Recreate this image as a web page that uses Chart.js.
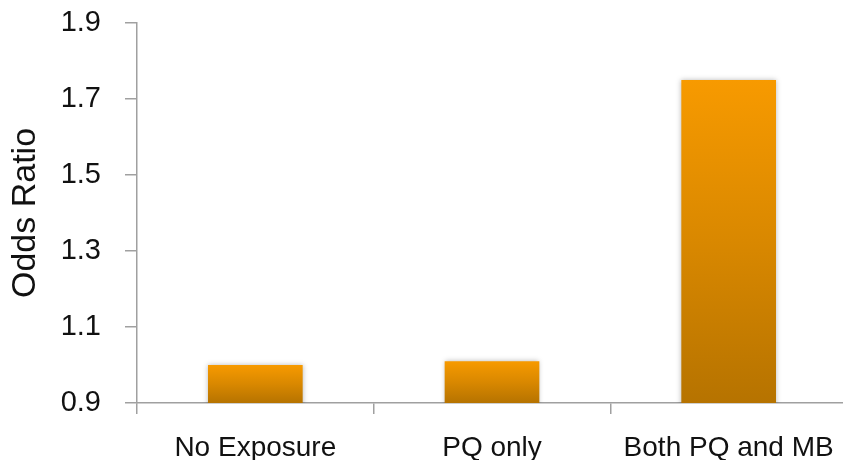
<!DOCTYPE html>
<html>
<head>
<meta charset="utf-8">
<script src="https://cdn.jsdelivr.net/npm/chart.js@4/dist/chart.umd.min.js"></script>
<style>
  html, body { margin: 0; padding: 0; background: #fff; overflow: hidden; }
  #wrap { width: 848px; height: 460px; }
</style>
</head>
<body>
<div id="wrap"><canvas id="c" width="848" height="460"></canvas></div>
<script>
// Odds ratios by exposure group
const categories = ['No Exposure', 'PQ only', 'Both PQ and MB'];
const oddsRatios = [1.0, 1.01, 1.75];
const yTicks = [0.9, 1.1, 1.3, 1.5, 1.7, 1.9];

const AXIS_GREY = '#a0a0a0';
const TEXT = '#111111';
const FONT = '"Liberation Sans", Arial, sans-serif';

// vertical orange gradient spanning each bar from its top to the baseline
function barGradient(context) {
  const chart = context.chart;
  const y = chart.scales.y;
  if (!chart.chartArea || !y || context.raw == null) return '#f39a00';
  const top = y.getPixelForValue(context.raw);
  const bottom = y.getPixelForValue(y.min);
  const g = chart.ctx.createLinearGradient(0, top, 0, bottom);
  g.addColorStop(0, '#f79a00');
  g.addColorStop(0.5, '#d98800');
  g.addColorStop(1, '#b67300');
  return g;
}

// soft drop shadow around the bars
const barShadow = {
  id: 'barShadow',
  beforeDatasetsDraw(chart) {
    const ctx = chart.ctx;
    ctx.save();
    ctx.shadowColor = 'rgba(0,0,0,0.28)';
    ctx.shadowBlur = 5;
    ctx.shadowOffsetX = 0;
    ctx.shadowOffsetY = 0;
  },
  afterDatasetsDraw(chart) {
    chart.ctx.restore();
  }
};

new Chart(document.getElementById('c'), {
  type: 'bar',
  data: {
    labels: categories,
    datasets: [{
      data: oddsRatios,
      backgroundColor: barGradient,
      borderWidth: 0,
      barPercentage: 0.4,
      categoryPercentage: 1.0
    }]
  },
  options: {
    responsive: false,
    animation: false,
    devicePixelRatio: 1,
    layout: { padding: { top: 23, right: 1, bottom: 0, left: 0 } },
    plugins: {
      legend: { display: false },
      tooltip: { enabled: false }
    },
    scales: {
      x: {
        grid: {
          display: true,
          drawOnChartArea: false,
          drawTicks: true,
          tickLength: 11,
          color: AXIS_GREY,
          lineWidth: 1.5
        },
        border: { display: true, color: AXIS_GREY, width: 1.5 },
        ticks: {
          color: TEXT,
          font: { family: FONT, size: 28 },
          padding: 17,
          maxRotation: 0
        },
        afterFit(scale) {
          scale.height = 57;
          scale.paddingLeft = 0;
          scale.paddingRight = 0;
        }
      },
      y: {
        min: 0.9,
        max: 1.9,
        afterBuildTicks(scale) {
          scale.ticks = yTicks.map(v => ({ value: v }));
        },
        grid: {
          display: true,
          drawOnChartArea: false,
          drawTicks: true,
          tickLength: 12,
          color: AXIS_GREY,
          lineWidth: 1.5
        },
        border: { display: true, color: AXIS_GREY, width: 1.5 },
        ticks: {
          color: TEXT,
          font: { family: FONT, size: 29 },
          padding: 24,
          callback: v => v.toFixed(1)
        },
        title: {
          display: true,
          text: 'Odds Ratio',
          color: TEXT,
          font: { family: FONT, size: 34 },
          padding: { top: 5, bottom: 0 }
        },
        afterFit(scale) {
          scale.width = 137;
          scale.paddingTop = 0;
          scale.paddingBottom = 0;
        }
      }
    }
  },
  plugins: [barShadow]
});
</script>
</body>
</html>
